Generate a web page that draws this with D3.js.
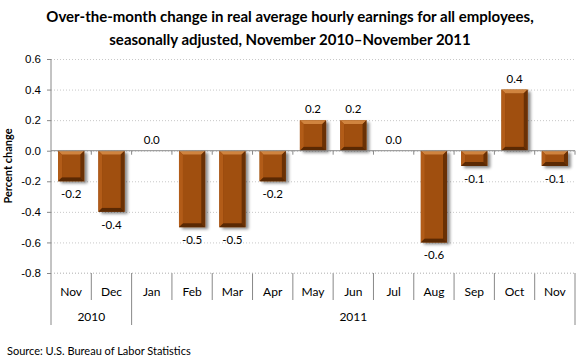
<!DOCTYPE html>
<html>
<head>
<meta charset="utf-8">
<script src="https://cdn.jsdelivr.net/npm/d3@7"></script>
<style>
  body { margin: 0; background: #fff; }
  svg { font-family: Lato, "Open Sans", sans-serif; }
</style>
</head>
<body>
<div id="chart"></div>
<script>
const months = ["Nov", "Dec", "Jan", "Feb", "Mar", "Apr", "May", "Jun", "Jul", "Aug", "Sep", "Oct", "Nov"];
const changes = [-0.2, -0.4, 0.0, -0.5, -0.5, -0.2, 0.2, 0.2, 0.0, -0.6, -0.1, 0.4, -0.1];
const years = [
  { label: "2010", start: 0, end: 1 },
  { label: "2011", start: 2, end: 12 },
];
const yTicks = [-0.8, -0.6, -0.4, -0.2, 0.0, 0.2, 0.4, 0.6];

const W = 580, H = 363;
let margin = { top: 59, right: 5, bottom: 90, left: 51 },
  width = W - margin.left - margin.right,
  height = H - margin.top - margin.bottom;

// hyphen instead of unicode minus, like the original
let fmt = d3.formatLocale({ decimal: ".", thousands: ",", grouping: [3], currency: ["$", ""], minus: "-" }).format(".1f");

let svg = d3.select("#chart")
  .append("svg")
  .attr("width", W)
  .attr("height", H);

let defs = svg.append("defs");
let f = defs.append("filter").attr("id", "shadow")
  .attr("x", "-20%").attr("y", "-20%").attr("width", "150%").attr("height", "150%");
f.append("feDropShadow")
  .attr("dx", 3).attr("dy", 2).attr("stdDeviation", 1.6)
  .attr("flood-color", "#000").attr("flood-opacity", 0.45);

// title
svg.append("text")
  .attr("x", 290).attr("y", 22)
  .attr("text-anchor", "middle")
  .style("font-weight", "bold").style("font-size", "15px")
  .text("Over-the-month change in real average hourly earnings for all employees,");
svg.append("text")
  .attr("x", 290).attr("y", 45)
  .attr("text-anchor", "middle")
  .style("font-weight", "bold").style("font-size", "15px")
  .text("seasonally adjusted, November 2010\u2013November 2011");

let g = svg.append("g")
  .attr("transform", "translate(" + margin.left + "," + margin.top + ")");

let idx = months.map((d, i) => i);
let x = d3.scaleBand()
  .domain(idx)
  .range([0, width])
  .paddingInner(0.35)
  .paddingOuter(0.175);

let y = d3.scaleLinear()
  .domain([-0.8, 0.6])
  .range([height, 0]);

// gridlines
g.append("g")
  .attr("class", "grid")
  .call(d3.axisLeft(y).tickValues(yTicks).tickSize(-width).tickFormat(""))
  .call(s => s.select(".domain").remove())
  .call(s => s.selectAll("line")
    .attr("stroke", "#c8c8c8")
    .attr("stroke-dasharray", "1,2"));

// y axis
g.append("g")
  .call(d3.axisLeft(y).tickValues(yTicks).tickSize(4).tickPadding(6)
    .tickFormat(fmt))
  .call(s => s.select(".domain").attr("stroke", "#888").attr("d", "M0,0V" + height + "V" + (height + 52)))
  .call(s => s.selectAll(".tick line").attr("stroke", "#888"))
  .call(s => s.selectAll("text").style("font-size", "11.5px").attr("fill", "#000"));

// y axis title
svg.append("text")
  .attr("transform", "translate(12," + (margin.top + y(-0.1)) + ") rotate(-90)")
  .attr("text-anchor", "middle")
  .style("font-weight", "bold").style("font-size", "11px")
  .text("Percent change");

let step = x.step();
let bound = i => x(i) - step * x.paddingInner() / 2;

// bars with bevel
let bevel = 4;
let bars = g.selectAll(".bar")
  .data(changes.map((v, i) => ({ v, i })).filter(d => d.v !== 0))
  .enter().append("g")
  .attr("class", "bar");

bars.each(function (d) {
  let b = d3.select(this);
  let x0 = x(d.i), w = x.bandwidth();
  let y0 = y(Math.max(0, d.v)), h = Math.abs(y(d.v) - y(0));
  let x1 = x0 + w, y1 = y0 + h;
  let bb = Math.min(bevel, h / 2);
  b.append("rect")
    .attr("x", x0).attr("y", y0).attr("width", w).attr("height", h)
    .attr("fill", "#8a420b")
    .attr("filter", "url(#shadow)");
  const poly = (pts, c) => b.append("polygon")
    .attr("points", pts.map(p => p.join(",")).join(" "))
    .attr("fill", c);
  poly([[x0, y0], [x1, y0], [x1 - bb, y0 + bb], [x0 + bb, y0 + bb]], "#d0843f");
  poly([[x0, y0], [x0 + bb, y0 + bb], [x0 + bb, y1 - bb], [x0, y1]], "#b25c18");
  poly([[x1, y0], [x1, y1], [x1 - bb, y1 - bb], [x1 - bb, y0 + bb]], "#6a3105");
  poly([[x0, y1], [x0 + bb, y1 - bb], [x1 - bb, y1 - bb], [x1, y1]], "#5a2903");
  b.append("rect")
    .attr("x", x0 + bb).attr("y", y0 + bb)
    .attr("width", w - 2 * bb).attr("height", Math.max(0, h - 2 * bb))
    .attr("fill", "#a04f0f");
});

// zero line with ticks
g.append("line")
  .attr("x1", 0).attr("x2", width)
  .attr("y1", y(0)).attr("y2", y(0))
  .attr("stroke", "#888");
g.selectAll(".ztick")
  .data(idx.slice(1).concat([idx.length]))
  .enter().append("line")
  .attr("x1", i => i < idx.length ? bound(i) : width)
  .attr("x2", i => i < idx.length ? bound(i) : width)
  .attr("y1", y(0)).attr("y2", y(0) + 4)
  .attr("stroke", "#888");

// value labels
g.selectAll(".lbl")
  .data(changes.map((v, i) => ({ v, i })))
  .enter().append("text")
  .attr("x", d => x(d.i) + x.bandwidth() / 2)
  .attr("y", d => d.v < 0 ? y(d.v) + 17 : y(d.v) - 7)
  .attr("text-anchor", "middle")
  .style("font-size", "11.5px")
  .text(d => fmt(d.v));

// category axis at bottom
let cat = g.append("g").attr("transform", "translate(0," + height + ")");
cat.selectAll(".sep")
  .data(idx.slice(1).concat([idx.length]))
  .enter().append("line")
  .attr("x1", i => i < idx.length ? bound(i) : width)
  .attr("x2", i => i < idx.length ? bound(i) : width)
  .attr("y1", 0)
  .attr("y2", i => (i === 2 || i === idx.length) ? 52 : 27)
  .attr("stroke", "#888");
cat.append("line")
  .attr("x1", 0).attr("x2", width)
  .attr("y1", 0).attr("y2", 0)
  .attr("stroke", "#c8c8c8")
  .attr("stroke-dasharray", "1,2");
cat.selectAll(".mlab")
  .data(months)
  .enter().append("text")
  .attr("x", (d, i) => x(i) + x.bandwidth() / 2)
  .attr("y", 23)
  .attr("text-anchor", "middle")
  .style("font-size", "12px")
  .text(d => d);
cat.selectAll(".ylab")
  .data(years)
  .enter().append("text")
  .attr("x", d => ((d.start === 0 ? 0 : bound(d.start)) + (d.end === idx.length - 1 ? width : bound(d.end + 1))) / 2)
  .attr("y", 48)
  .attr("text-anchor", "middle")
  .style("font-size", "12px")
  .text(d => d.label);

// source
svg.append("text")
  .attr("x", 7).attr("y", 355)
  .style("font-size", "11px")
  .text("Source: U.S. Bureau of Labor Statistics");
</script>
</body>
</html>
